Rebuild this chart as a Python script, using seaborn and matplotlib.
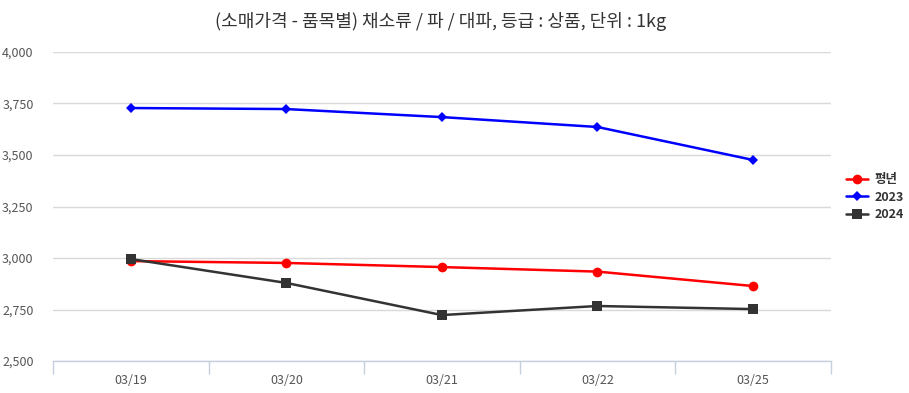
import matplotlib
matplotlib.use('Agg')
import matplotlib.pyplot as plt
import seaborn as sns
import pandas as pd
from matplotlib.ticker import FuncFormatter, FixedLocator

dates = ['03/19', '03/20', '03/21', '03/22', '03/25']
avg_year = [2985, 2976, 2956, 2934, 2864]
y2023 = [3728, 3723, 3684, 3636, 3476]
y2024 = [2995, 2879, 2723, 2767, 2752]

series = ['평년', '2023', '2024']
colors = {'평년': '#ff0000', '2023': '#0000ff', '2024': '#333333'}
markers = {'평년': 'o', '2023': 'D', '2024': 's'}
sizes = {'평년': 7, '2023': 5, '2024': 7}

df = pd.DataFrame({
    'date': dates * 3,
    'idx': list(range(len(dates))) * 3,
    'series': ['평년'] * 5 + ['2023'] * 5 + ['2024'] * 5,
    'price': avg_year + y2023 + y2024,
})

sns.set_style('white')
plt.rcParams['font.family'] = ['Noto Sans CJK KR', 'DejaVu Sans']

fig = plt.figure(figsize=(9.09, 3.93), dpi=100)
ax = fig.add_axes([0.0583, 0.0814, 0.8556, 0.7863])

for s in series:
    d = df[df['series'] == s]
    sns.lineplot(data=d, x='idx', y='price', ax=ax, color=colors[s],
                 marker=markers[s], markersize=sizes[s], markeredgewidth=0,
                 linewidth=1.8, label=s)

ax.set_xlim(-0.5, len(dates) - 0.5)
ax.set_ylim(2500, 4000)
ax.set_yticks([2500, 2750, 3000, 3250, 3500, 3750, 4000])
ax.yaxis.set_major_formatter(FuncFormatter(lambda v, p: f'{int(v):,}'))
ax.grid(axis='y', color='#d9d9d9', linewidth=1)
ax.set_axisbelow(True)

ax.set_xticks(range(len(dates)))
ax.set_xticklabels(dates)
ax.xaxis.set_minor_locator(FixedLocator([i - 0.5 for i in range(len(dates) + 1)]))
ax.tick_params(axis='x', which='major', bottom=False, length=0, pad=9,
               labelsize=9, labelcolor='#555555')
ax.tick_params(axis='x', which='minor', bottom=True, length=9,
               color='#c5d0de', width=1)
ax.tick_params(axis='y', length=0, pad=14, labelsize=9, labelcolor='#555555')

for side in ['top', 'right', 'left']:
    ax.spines[side].set_visible(False)
ax.spines['bottom'].set_color('#c5d0de')
ax.spines['bottom'].set_linewidth(1)

ax.set_xlabel('')
ax.set_ylabel('')

leg = ax.legend(loc='center left', bbox_to_anchor=(1.005, 0.53), frameon=False,
                fontsize=9, handlelength=1.8, labelspacing=0.35, handletextpad=0.5)
for t in leg.get_texts():
    t.set_color('#333333')
    t.set_fontweight('bold')

fig.suptitle('(소매가격 - 품목별) 채소류 / 파 / 대파, 등급 : 상품, 단위 : 1kg',
             x=0.485, y=0.97, fontsize=13, color='#333333')

fig.savefig('out.png', dpi=100)
